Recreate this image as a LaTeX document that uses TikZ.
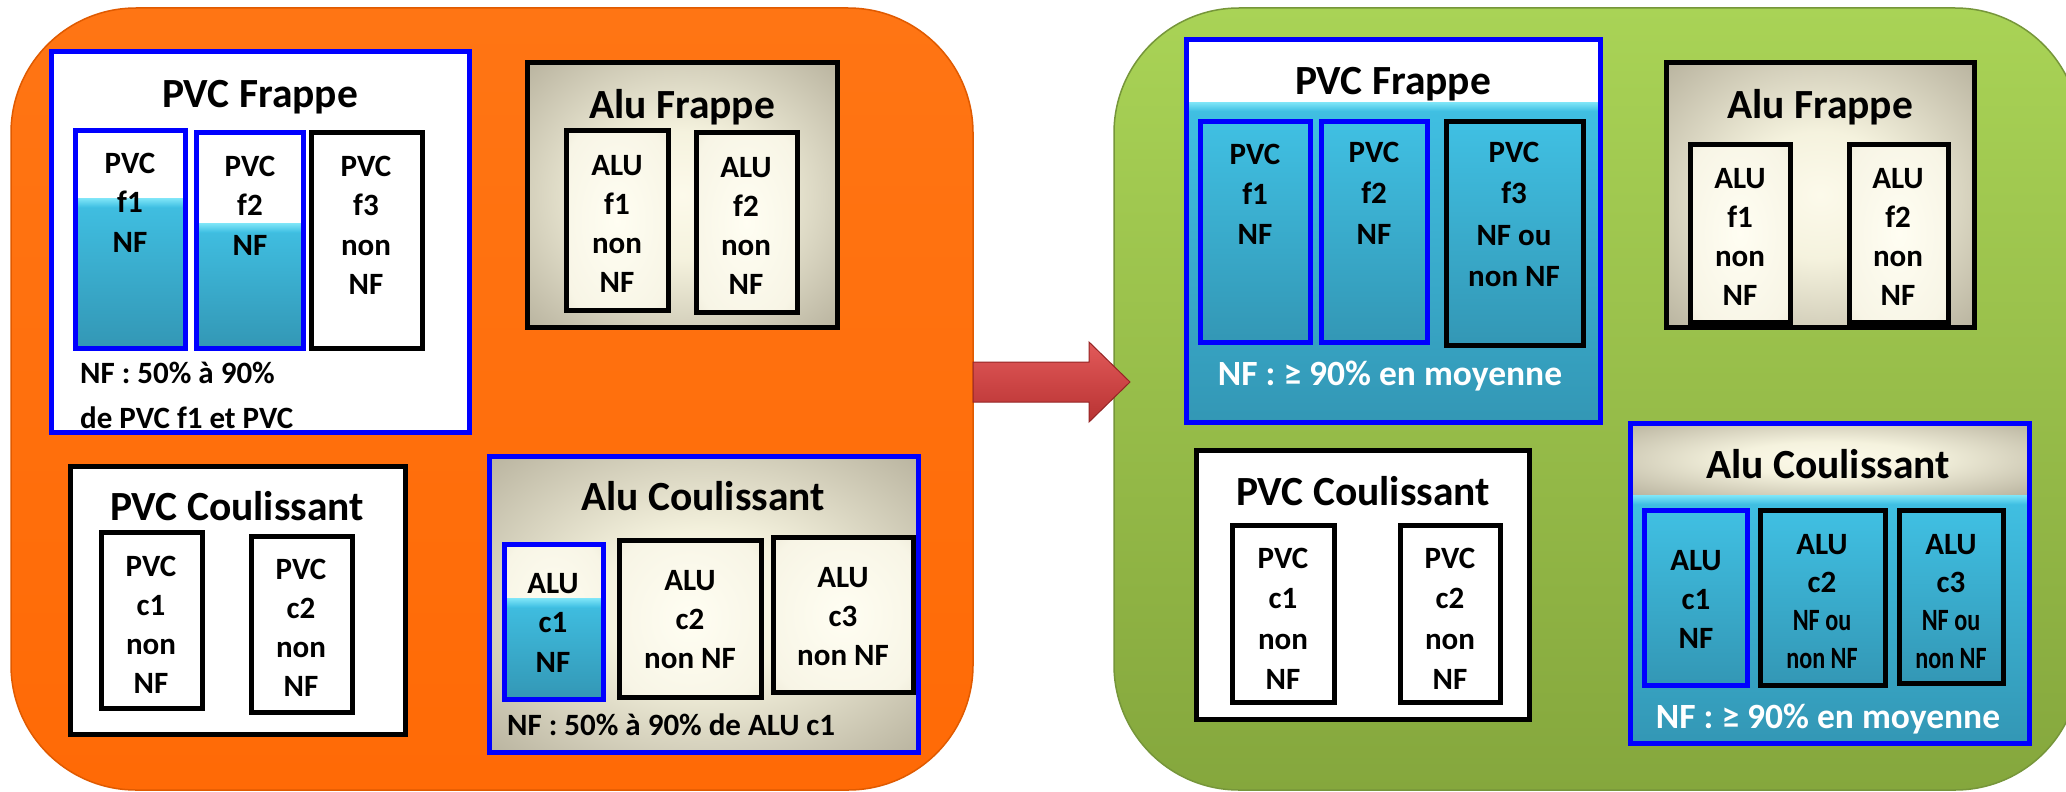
\documentclass[tikz,border=0pt]{standalone}
\usepackage{fontspec}
\setmainfont{Carlito}
\usepackage{graphicx}
\usetikzlibrary{fit}
\definecolor{bdblue}{HTML}{0000FF}
\definecolor{orangeA}{HTML}{FF7514}
\definecolor{orangeB}{HTML}{FF6A06}
\definecolor{orangeD}{HTML}{E05A00}
\definecolor{greenA}{HTML}{A9D356}
\definecolor{greenB}{HTML}{85A73D}
\definecolor{greenD}{HTML}{76963A}
\definecolor{blueA}{HTML}{40C0E3}
\definecolor{blueB}{HTML}{3397B5}
\definecolor{blueHL}{HTML}{80E6F8}
\definecolor{redA}{HTML}{E25A5A}
\definecolor{redB}{HTML}{B83232}
\definecolor{redD}{HTML}{952525}
\pgfdeclareradialshading{alu}{\pgfpoint{0bp}{0bp}}{rgb(0bp)=(0.99,0.98,0.92);rgb(12bp)=(0.96,0.95,0.87);rgb(32bp)=(0.76,0.74,0.66);rgb(50bp)=(0.58,0.56,0.48);rgb(72bp)=(0.46,0.44,0.37)}
\pgfdeclareradialshading{aluin}{\pgfpoint{0bp}{0bp}}{rgb(0bp)=(1,0.995,0.95);rgb(30bp)=(0.97,0.96,0.90);rgb(50bp)=(0.87,0.85,0.77);rgb(72bp)=(0.78,0.76,0.68)}
% lower blue part of a box: node name, y of the top of the blue part
\newcommand\lowblue[2]{%
  \shade[top color=blueA, bottom color=blueB] (#1.west |- 0,#2) rectangle (#1.south east);
  \shade[top color=blueHL, bottom color=blueA] (#1.west |- 0,#2) rectangle (#1.east |- 0,#2+9);}
\newcommand\reborder[2]{\draw[line width=5pt, draw=#2] (#1.north west) rectangle (#1.south east);}
\newcommand\sq[1]{\scalebox{0.78}[1]{#1}}
\newcommand\stack[6]{%
  \foreach \lintxt [count=\i] in {#6}{\node[#2] (#1-\i) at ({#3},{#4+(\i-1)*#5}) {\lintxt};}}
\tikzset{
  bx/.style={inner sep=0pt, outer sep=0pt, line width=5pt},
  bb/.style={bx, draw=bdblue},
  kb/.style={bx, draw=black},
  wfill/.style={fill=white},
  alufill/.style={shading=alu},
  aluinfill/.style={shading=aluin},
  bluefill/.style={top color=blueA, bottom color=blueB},
  ttl/.style={anchor=base, inner sep=0pt, font=\bfseries\fontsize{41.5}{50}\selectfont},
  txt/.style={anchor=base, inner sep=0pt, font=\bfseries\fontsize{31}{37}\selectfont},
  note/.style={anchor=base west, inner sep=0pt, font=\bfseries\fontsize{31}{37}\selectfont},
  wnote/.style={anchor=base, inner sep=0pt, text=white, font=\bfseries\fontsize{35.5}{42}\selectfont},
  panel/.style={inner sep=0pt, outer sep=0pt, rounded corners=125pt, line width=1.5pt},
  bigarrow/.style={top color=redA, bottom color=redB, draw=redD, line width=1pt, line join=miter}
}
\begin{document}
\begin{tikzpicture}[x=1pt,y=-1pt]
\useasboundingbox (0,0) rectangle (2066,792);
\clip (0,0) rectangle (2066,792);
\fill[white] (0,0) rectangle (2066,792);
% panels
\node[fit={(11,8)(973,790)}, panel, top color=orangeA, bottom color=orangeB, draw=orangeD] (left) {};
\node[fit={(1114,8)(2080,790)}, panel, top color=greenA, bottom color=greenB, draw=greenD] (right) {};
% block arrow from the left panel to the right panel
\coordinate (a1) at (left.east |- 0,362);
\coordinate (a2) at (1089,362);
\coordinate (a3) at (1089,342);
\coordinate (a4) at (1130,382);
\coordinate (a5) at (1089,422);
\coordinate (a6) at (1089,402);
\coordinate (a7) at (left.east |- 0,402);
\path[bigarrow] (a1) -- (a2) -- (a3) -- (a4) -- (a5) -- (a6) -- (a7) -- cycle;

% ---------- left: PVC Frappe
\node[fit={(51,52)(469,432)}, bb, wfill] (lpf) {};
\node[ttl] (lpf-t) at (260,107) {PVC Frappe};
\node[fit={(75,130)(185,348)}, bb, wfill] (lpf1) {};
\lowblue{lpf1}{198}\reborder{lpf1}{bdblue}
\stack{lpf1}{txt}{130}{173}{39.5}{PVC,f1,NF}
\node[fit={(196,132)(303,348)}, bb, wfill] (lpf2) {};
\lowblue{lpf2}{223}\reborder{lpf2}{bdblue}
\stack{lpf2}{txt}{250}{176}{39.5}{PVC,f2,NF}
\node[fit={(311,132)(422,348)}, kb, wfill] (lpf3) {};
\stack{lpf3}{txt}{366}{176}{39.5}{PVC,f3,non,NF}
\node[note] (lpf-n1) at (80,383) {NF : 50\% à 90\%};
\node[note] (lpf-n2) at (80,428) {de PVC f1 et PVC};

% ---------- left: Alu Frappe
\node[fit={(527,63)(837,327)}, kb, alufill] (laf) {};
\node[ttl] (laf-t) at (682,118) {Alu Frappe};
\node[fit={(566,130)(668,310)}, kb, aluinfill] (laf1) {};
\stack{laf1}{txt}{617}{175}{39}{ALU,f1,non,NF}
\node[fit={(696,132)(797,312)}, kb, aluinfill] (laf2) {};
\stack{laf2}{txt}{746}{177}{39}{ALU,f2,non,NF}

% ---------- left: PVC Coulissant
\node[fit={(70,466)(405,734)}, kb, wfill] (lpc) {};
\node[ttl] (lpc-t) at (237,520) {PVC Coulissant};
\node[fit={(101,532)(202,708)}, kb, wfill] (lpc1) {};
\stack{lpc1}{txt}{151}{576}{39}{PVC,c1,non,NF}
\node[fit={(251,536)(352,712)}, kb, wfill] (lpc2) {};
\stack{lpc2}{txt}{301}{579}{39}{PVC,c2,non,NF}

% ---------- left: Alu Coulissant
\node[fit={(489,456)(918,752)}, bb, alufill] (lac) {};
\node[ttl] (lac-t) at (703,510) {Alu Coulissant};
\node[fit={(504,544)(603,699)}, bb, aluinfill] (lac1) {};
\lowblue{lac1}{598}\reborder{lac1}{bdblue}
\stack{lac1}{txt}{553}{593}{39.5}{ALU,c1,NF}
\node[fit={(619,540)(761,697)}, kb, aluinfill] (lac2) {};
\stack{lac2}{txt}{690}{590}{39}{ALU,c2,non NF}
\node[fit={(773,537)(913,692)}, kb, aluinfill] (lac3) {};
\stack{lac3}{txt}{843}{587}{39}{ALU,c3,non NF}
\node[note] (lac-n) at (507,735) {NF : 50\% à 90\% de ALU c1};

% ---------- right: PVC Frappe
\node[fit={(1186,40)(1600,422)}, bb, wfill] (rpf) {};
\lowblue{rpf}{102}\reborder{rpf}{bdblue}
\node[ttl] (rpf-t) at (1393,95) {PVC Frappe};
\node[fit={(1200,121)(1310,342)}, bb, bluefill] (rpf1) {};
\stack{rpf1}{txt}{1255}{164}{40}{PVC,f1,NF}
\node[fit={(1321,121)(1427,342)}, bb, bluefill] (rpf2) {};
\stack{rpf2}{txt}{1374}{162}{41}{PVC,f2,NF}
\node[fit={(1446,121)(1583,345)}, kb, bluefill] (rpf3) {};
\stack{rpf3}{txt}{1514}{162}{41.5}{PVC,f3,NF ou,non NF}
\node[wnote] (rpf-n) at (1390,385) {NF : ≥ 90\% en moyenne};

% ---------- right: Alu Frappe
\node[fit={(1666,63)(1974,327)}, kb, alufill] (raf) {};
\node[ttl] (raf-t) at (1820,118) {Alu Frappe};
\node[fit={(1690,144)(1790,322)}, kb, aluinfill] (raf1) {};
\stack{raf1}{txt}{1740}{188}{39}{ALU,f1,non,NF}
\node[fit={(1849,144)(1948,322)}, kb, aluinfill] (raf2) {};
\stack{raf2}{txt}{1898}{188}{39}{ALU,f2,non,NF}

% ---------- right: PVC Coulissant
\node[fit={(1196,450)(1529,719)}, kb, wfill] (rpc) {};
\node[ttl] (rpc-t) at (1363,505) {PVC Coulissant};
\node[fit={(1232,525)(1334,702)}, kb, wfill] (rpc1) {};
\stack{rpc1}{txt}{1283}{568}{40.5}{PVC,c1,non,NF}
\node[fit={(1400,525)(1500,702)}, kb, wfill] (rpc2) {};
\stack{rpc2}{txt}{1450}{568}{40.5}{PVC,c2,non,NF}

% ---------- right: Alu Coulissant
\node[fit={(1630,423)(2029,743)}, bb] (rac) {};
\shade[shading=alu] (rac.north west) rectangle (rac.east |- 0,495);
\lowblue{rac}{495}\reborder{rac}{bdblue}
\node[ttl] (rac-t) at (1828,478) {Alu Coulissant};
\node[fit={(1644,510)(1747,685)}, bb, bluefill] (rac1) {};
\stack{rac1}{txt}{1696}{570}{39}{ALU,c1,NF}
\node[fit={(1760,510)(1885,685)}, kb, bluefill] (rac2) {};
\stack{rac2}{txt}{1822}{554}{38}{ALU,c2,\sq{NF ou},\sq{non NF}}
\node[fit={(1899,510)(2003,683)}, kb, bluefill] (rac3) {};
\stack{rac3}{txt}{1951}{554}{38}{ALU,c3,\sq{NF ou},\sq{non NF}}
\node[wnote] (rac-n) at (1828,728) {NF : ≥ 90\% en moyenne};
\end{tikzpicture}
\end{document}
